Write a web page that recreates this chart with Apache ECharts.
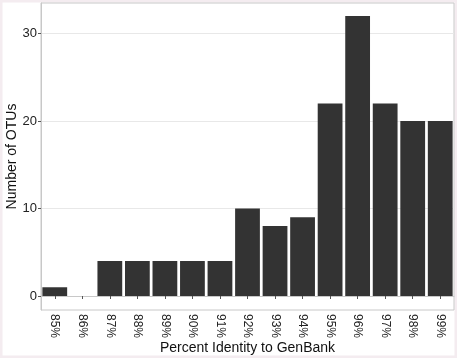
<!DOCTYPE html>
<html lang="en">
<head>
<meta charset="UTF-8">
<title>Percent Identity</title>
<script src="https://cdn.jsdelivr.net/npm/echarts@6/dist/echarts.min.js"></script>
<style>
  html, body { margin: 0; padding: 0; background: #fff; }
  #main { width: 457px; height: 358px; }
</style>
</head>
<body>
<div id="main"></div>
<script type="text/javascript">
var categories = ['85%', '86%', '87%', '88%', '89%', '90%', '91%', '92%',
                  '93%', '94%', '95%', '96%', '97%', '98%', '99%'];
var otuCounts = [1, 0, 4, 4, 4, 4, 4, 10, 8, 9, 22, 32, 22, 20, 20];
var yTicks = [0, 10, 20, 30];

var myChart = echarts.init(document.getElementById('main'));
myChart.setOption({
    backgroundColor: '#fff',
    animation: false,
    textStyle: { fontFamily: 'Liberation Sans, Arial, sans-serif' },
    graphic: [{
        type: 'rect',
        shape: { x: 1, y: 1, width: 455, height: 356 },
        style: { fill: 'none', stroke: '#f4ecf0', lineWidth: 3 },
        z: -1
    }],
    grid: {
        left: 41, top: 3, right: 3, bottom: 48,
        outerBoundsMode: 'none',
        containLabel: false,
        show: true,
        borderColor: '#c8c8c8',
        borderWidth: 1
    },
    xAxis: {
        type: 'category',
        data: categories,
        name: 'Percent Identity to GenBank',
        nameLocation: 'middle',
        nameMoveOverlap: false,
        nameGap: 31,
        nameTextStyle: { fontSize: 14, color: '#111' },
        axisLine: { show: true, lineStyle: { color: '#c8c8c8' } },
        axisTick: { show: true, alignWithLabel: true, length: 3, lineStyle: { color: '#555' } },
        axisLabel: { rotate: -90, fontSize: 12, color: '#222', margin: 4, interval: 0 }
    },
    yAxis: {
        type: 'value',
        min: -1.6,
        max: 33.5,
        name: 'Number of OTUs',
        nameLocation: 'middle',
        nameMoveOverlap: false,
        nameGap: 22,
        nameTextStyle: { fontSize: 14, color: '#111' },
        axisLine: { show: true, lineStyle: { color: '#c8c8c8' } },
        axisTick: { show: true, length: 3, customValues: yTicks, lineStyle: { color: '#555' } },
        axisLabel: { fontSize: 13, color: '#222', margin: 4, customValues: yTicks },
        splitLine: { show: true, lineStyle: { color: '#e8e8e8' } }
    },
    series: [{
        name: 'OTUs',
        type: 'bar',
        data: otuCounts,
        barCategoryGap: '10%',
        itemStyle: { color: '#333333' }
    }]
});
</script>
</body>
</html>
